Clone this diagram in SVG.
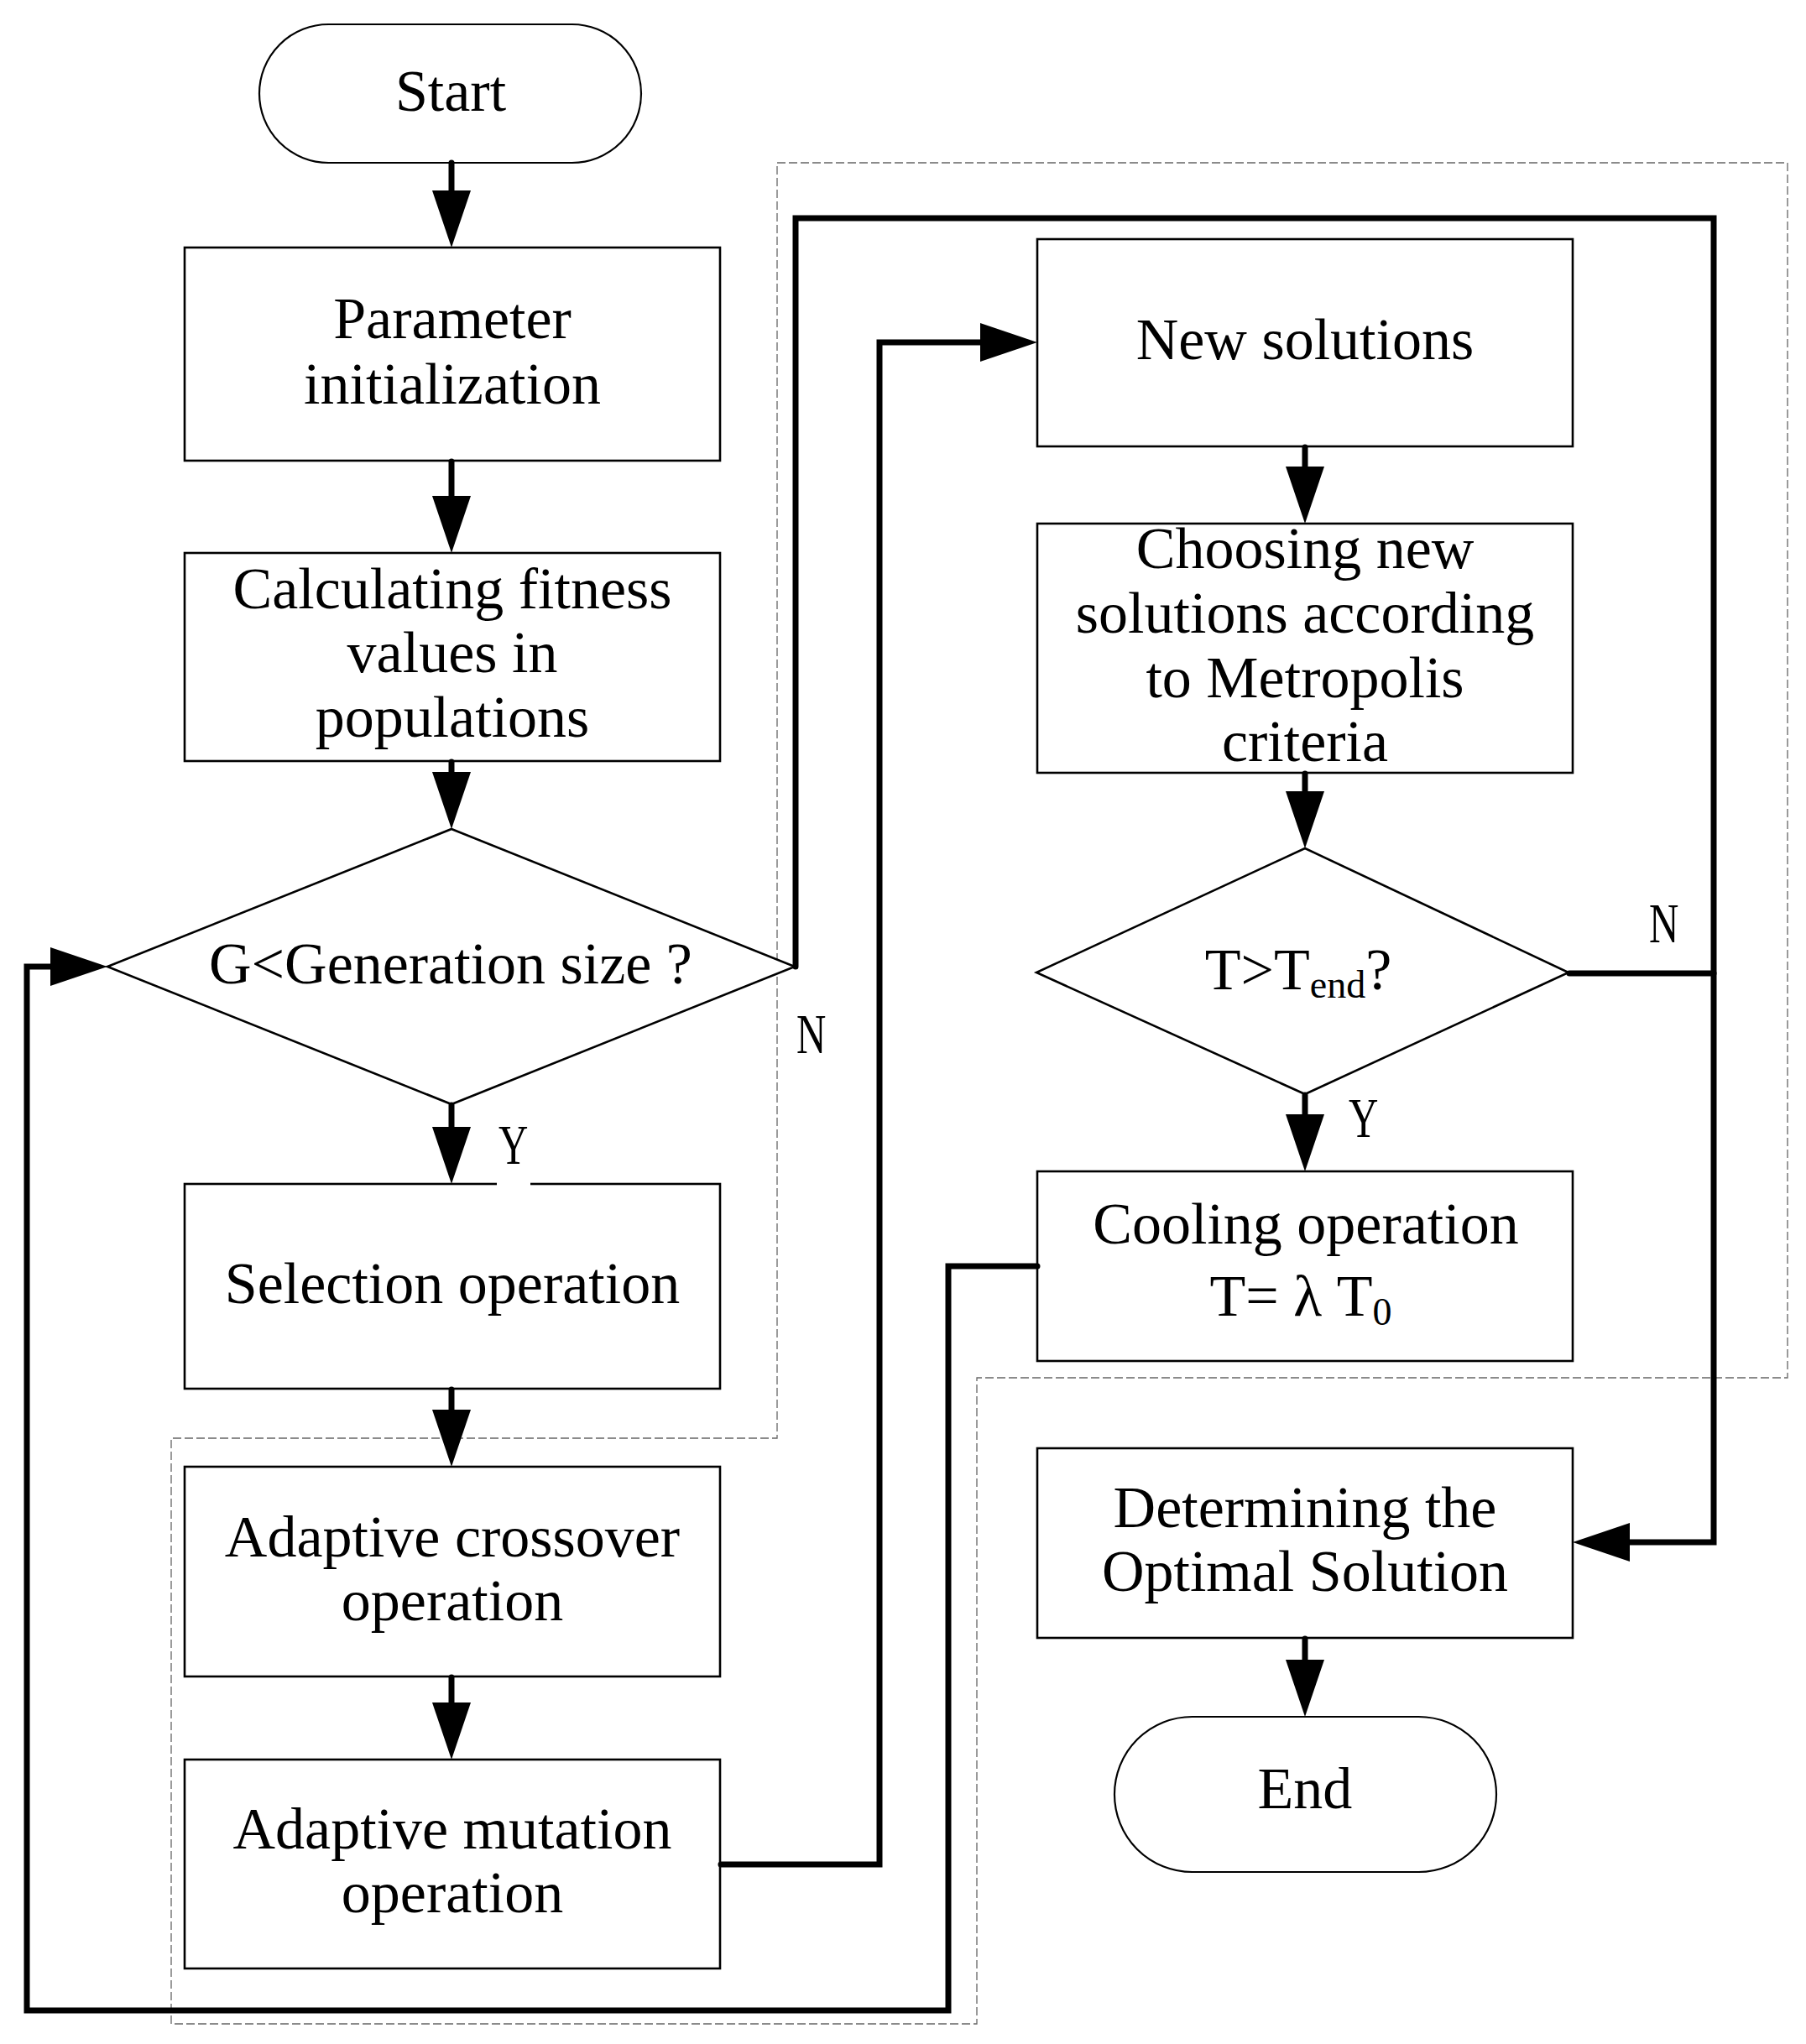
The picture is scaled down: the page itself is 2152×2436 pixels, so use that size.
<svg xmlns="http://www.w3.org/2000/svg" width="2152" height="2436" viewBox="0 0 2152 2436">
<style>
  .box{fill:#fff;stroke:#000;stroke-width:2.6}
  .term{fill:#fff;stroke:#000;stroke-width:2.2}
  .t{font-family:"Liberation Serif","Times New Roman",serif;font-size:70px;fill:#000;text-anchor:middle}
  .lbl{font-family:"Liberation Serif","Times New Roman",serif;font-size:68px;fill:#000}
  .c{fill:none;stroke:#000;stroke-width:7;stroke-linejoin:miter;stroke-linecap:round}
  .dash{fill:none;stroke:#666;stroke-width:1.3;stroke-dasharray:10 4}
</style>
<defs>
  <marker id="ah" markerUnits="userSpaceOnUse" markerWidth="70" markerHeight="48" refX="38" refY="23" orient="auto" overflow="visible">
    <path d="M0,0 L68,23 L0,46 Z" fill="#000"/>
  </marker>
</defs>
<rect width="2152" height="2436" fill="#fff"/>

<path id="region" class="dash" d="M926,194 H2130 V1642 H1164 V2412 H204 V1714 H926 Z"/>

<g id="start">
  <rect class="term" x="309" y="29" width="455" height="165" rx="82.5" ry="82.5"/>
  <text class="t" x="537" y="132">Start</text>
</g>
<g id="param">
  <rect class="box" x="220" y="295" width="638" height="254"/>
  <text class="t" x="539" y="403">Parameter</text>
  <text class="t" x="539" y="481">initialization</text>
</g>
<g id="fitness">
  <rect class="box" x="220" y="659" width="638" height="248"/>
  <text class="t" x="539" y="725">Calculating fitness</text>
  <text class="t" x="539" y="801">values in</text>
  <text class="t" x="539" y="878">populations</text>
</g>
<g id="gen">
  <polygon class="box" points="538,988 947,1152 538,1316 128,1152"/>
  <text class="t" x="537" y="1172">G&lt;Generation size ?</text>
</g>
<g id="selection">
  <rect class="box" x="220" y="1411" width="638" height="244"/>
  <text class="t" x="539" y="1553">Selection operation</text>
</g>
<g id="crossover">
  <rect class="box" x="220" y="1748" width="638" height="250"/>
  <text class="t" x="539" y="1855">Adaptive crossover</text>
  <text class="t" x="539" y="1931">operation</text>
</g>
<g id="mutation">
  <rect class="box" x="220" y="2097" width="638" height="249"/>
  <text class="t" x="539" y="2203">Adaptive mutation</text>
  <text class="t" x="539" y="2279">operation</text>
</g>
<g id="newsol">
  <rect class="box" x="1236" y="285" width="638" height="247"/>
  <text class="t" x="1555" y="428">New solutions</text>
</g>
<g id="choosing">
  <rect class="box" x="1236" y="624" width="638" height="297"/>
  <text class="t" x="1555" y="677">Choosing new</text>
  <text class="t" x="1555" y="754">solutions according</text>
  <text class="t" x="1555" y="831">to Metropolis</text>
  <text class="t" x="1555" y="907">criteria</text>
</g>
<g id="temp">
  <polygon class="box" points="1555,1011 1869,1159 1555,1304 1235,1159"/>
  <text class="t" x="1547" y="1179">T&gt;T<tspan font-size="46" dy="10">end</tspan><tspan dy="-10">?</tspan></text>
</g>
<g id="cooling">
  <rect class="box" x="1236" y="1396" width="638" height="226"/>
  <text class="t" x="1556" y="1482">Cooling operation</text>
  <text class="t" x="1550" y="1568">T= λ T<tspan font-size="46" dy="11">0</tspan></text>
</g>
<g id="optimal">
  <rect class="box" x="1236" y="1726" width="638" height="226"/>
  <text class="t" x="1555" y="1820">Determining the</text>
  <text class="t" x="1555" y="1896">Optimal Solution</text>
</g>
<g id="end">
  <rect class="term" x="1328" y="2046" width="455" height="185" rx="92.5" ry="92.5"/>
  <text class="t" x="1555" y="2155">End</text>
</g>

<g id="connectors">
  <path class="c" d="M538,194 V265" marker-end="url(#ah)"/>
  <path class="c" d="M538,550 V629" marker-end="url(#ah)"/>
  <path class="c" d="M538,908 V958" marker-end="url(#ah)"/>
  <path class="c" d="M538,1317 V1381" marker-end="url(#ah)"/>
  <path class="c" d="M538,1656 V1718" marker-end="url(#ah)"/>
  <path class="c" d="M538,1999 V2067" marker-end="url(#ah)"/>
  <path class="c" d="M859,2222 H1048 V408 H1206" marker-end="url(#ah)"/>
  <path class="c" d="M948,1152 V260 H2042 V1838 H1904" marker-end="url(#ah)"/>
  <path class="c" d="M1555,533 V594" marker-end="url(#ah)"/>
  <path class="c" d="M1555,922 V981" marker-end="url(#ah)"/>
  <path class="c" d="M1555,1305 V1366" marker-end="url(#ah)"/>
  <path class="c" d="M1870,1160 H2042"/>
  <path class="c" d="M1236,1509 H1130 V2396 H32 V1152 H98" marker-end="url(#ah)"/>
  <path class="c" d="M1555,1953 V2016" marker-end="url(#ah)"/>
</g>

<g id="labels">
  <rect x="592" y="1406" width="40" height="9" fill="#fff"/>
  <text class="lbl" transform="translate(594,1387) scale(0.72,1)">Y</text>
  <text class="lbl" transform="translate(949,1255) scale(0.72,1)">N</text>
  <text class="lbl" transform="translate(1607,1355) scale(0.72,1)">Y</text>
  <text class="lbl" transform="translate(1965,1123) scale(0.72,1)">N</text>
</g>
</svg>
